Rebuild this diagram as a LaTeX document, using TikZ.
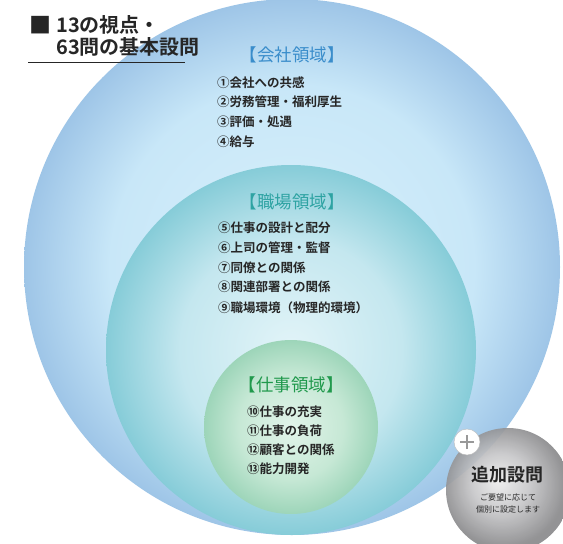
\documentclass[tikz,border=0pt]{standalone}
\usepackage{fontspec}
\setmainfont{Noto Sans CJK JP}[BoldFont={Noto Sans CJK JP Bold}]
\definecolor{oA}{HTML}{D8F0FB}
\definecolor{oB}{HTML}{C8E7F8}
\definecolor{oC}{HTML}{9EC5E7}
\definecolor{mA}{HTML}{E2F4F8}
\definecolor{mB}{HTML}{C4E7EF}
\definecolor{mC}{HTML}{86CCD8}
\definecolor{iA}{HTML}{E2F4EA}
\definecolor{iB}{HTML}{C6E8D5}
\definecolor{iC}{HTML}{9DD5B9}
\definecolor{gA}{HTML}{EEEEEE}
\definecolor{gB}{HTML}{C6C6C8}
\definecolor{gC}{HTML}{8A8A8C}
\definecolor{txt}{HTML}{262626}
\definecolor{blueL}{HTML}{3A8DCB}
\definecolor{tealL}{HTML}{2EA3A3}
\definecolor{greenL}{HTML}{20994C}
\pgfdeclareradialshading{outerS}{\pgfpoint{0bp}{0bp}}{color(0bp)=(oA); color(17bp)=(oB); color(25bp)=(oC); color(50bp)=(oC)}
\pgfdeclareradialshading{midS}{\pgfpoint{0bp}{0bp}}{color(0bp)=(mA); color(15bp)=(mB); color(25bp)=(mC); color(50bp)=(mC)}
\pgfdeclareradialshading{innS}{\pgfpoint{0bp}{0bp}}{color(0bp)=(iA); color(15bp)=(iB); color(25bp)=(iC); color(50bp)=(iC)}
\pgfdeclareradialshading{grayS}{\pgfpoint{-4bp}{4bp}}{color(0bp)=(gA); color(12bp)=(gB); color(25bp)=(gC); color(50bp)=(gC)}
\tikzset{
  item/.style={anchor=west, inner sep=0pt, text=txt, font=\bfseries\fontsize{12.5}{14}\selectfont},
  lbl/.style={inner sep=0pt, font=\fontsize{17.5}{19}\selectfont},
  ttl/.style={anchor=west, inner sep=0pt, text=txt, font=\bfseries\fontsize{20}{22}\selectfont},
}
\begin{document}
\begin{tikzpicture}[x=1pt,y=-1pt]
\useasboundingbox (0,0) rectangle (563,544);
\fill[white] (0,0) rectangle (563,544);
\begin{scope}
\clip (0,0) rectangle (563,544);
\shade[shading=outerS] (292,267) circle (268);
\shade[shading=midS] (291,350) circle (185);
\shade[shading=innS] (291,427) circle (87);
\shade[shading=grayS, opacity=0.92] (508,490) circle (62);
\end{scope}
% plus badge
\node[circle, draw=gray!55, fill=white, minimum size=26pt, inner sep=0pt] (plus) at (467,442) {};
\draw[gray!80, line width=1.1pt] ([xshift=-7pt]plus.center) -- ([xshift=7pt]plus.center);
\draw[gray!80, line width=1.1pt] ([yshift=-7pt]plus.center) -- ([yshift=7pt]plus.center);
% title
\node[inner sep=0pt, text=txt, font=\fontsize{22}{22}\selectfont] (sq) at (41,25) {■};
\node[ttl] (t1) at (56,25) {13の視点・};
\node[ttl] (t2) at (56,47) {63問の基本設問};
\coordinate (u1) at (28,62);
\coordinate (u2) at (185,62);
\draw[txt, line width=0.8pt] (u1) -- (u2);
% company
\node[lbl, text=blueL] (L1) at (292,55) {【会社領域】};
\node[item] (i1) at (217,83) {①会社への共感};
\node[item] (i2) at (217,102) {②労務管理・福利厚生};
\node[item] (i3) at (217,122) {③評価・処遇};
\node[item] (i4) at (217,142) {④給与};
% workplace
\node[lbl, text=tealL] (L2) at (292,202) {【職場領域】};
\node[item] (i5) at (218,228) {⑤仕事の設計と配分};
\node[item] (i6) at (218,248) {⑥上司の管理・監督};
\node[item] (i7) at (218,268) {⑦同僚との関係};
\node[item] (i8) at (218,287) {⑧関連部署との関係};
\node[item] (i9) at (218,308) {⑨職場環境（物理的環境）};
% job
\node[lbl, text=greenL] (L3) at (291,385) {【仕事領域】};
\node[item] (i10) at (247,412) {⑩仕事の充実};
\node[item] (i11) at (247,431) {⑪仕事の負荷};
\node[item] (i12) at (247,450) {⑫顧客との関係};
\node[item] (i13) at (247,469) {⑬能力開発};
% additional
\node[inner sep=0pt, text=txt, font=\bfseries\fontsize{18}{20}\selectfont] (add) at (507,475) {追加設問};
\node[inner sep=0pt, text=txt, font=\fontsize{8}{9}\selectfont] (s1) at (508,497) {ご要望に応じて};
\node[inner sep=0pt, text=txt, font=\fontsize{8}{9}\selectfont] (s2) at (508,509) {個別に設定します};
\end{tikzpicture}
\end{document}
